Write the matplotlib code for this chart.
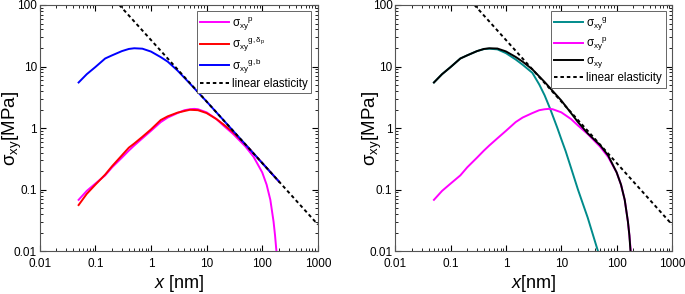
import matplotlib
matplotlib.use('Agg')
import matplotlib.pyplot as plt
from matplotlib.ticker import LogLocator, FixedLocator, FixedFormatter

plt.rcParams['font.family'] = ['Liberation Sans', 'DejaVu Sans']
plt.rcParams['mathtext.fontset'] = 'custom'
plt.rcParams['mathtext.rm'] = 'Liberation Sans'
plt.rcParams['mathtext.it'] = 'Liberation Sans:italic'
plt.rcParams['mathtext.bf'] = 'Liberation Sans:bold'

# sigma_xy^p (plastic part), same in both panels
x_p = [0.05, 0.07, 0.1, 0.15, 0.2, 0.3, 0.4, 0.5, 0.7, 1, 1.5, 2, 3, 4, 5, 6, 7, 10,
       15, 20, 30, 50, 70, 100, 120, 140, 160, 170, 180, 185]
s_p = [0.068, 0.095, 0.125, 0.17, 0.23, 0.33, 0.43, 0.52, 0.68, 0.9, 1.25, 1.48, 1.75, 1.95,
       2.02, 2.05, 2.02, 1.8, 1.4, 1.1, 0.8, 0.5, 0.34, 0.19, 0.12, 0.068, 0.03, 0.018, 0.01, 0.006]

# sigma_xy^{g,delta_p}
x_gd = [0.05, 0.07, 0.1, 0.15, 0.2, 0.3, 0.4, 0.5, 0.7, 1, 1.5, 2, 3, 5, 7, 10, 15, 20,
        30, 50, 100, 200]
s_gd = [0.056, 0.085, 0.12, 0.175, 0.24, 0.36, 0.48, 0.56, 0.72, 0.95, 1.35, 1.55, 1.78,
        1.98, 1.95, 1.75, 1.4, 1.15, 0.85, 0.54, 0.27, 0.135]

# sigma_xy^{g,b}
x_gb = [0.05, 0.07, 0.1, 0.15, 0.2, 0.3, 0.4, 0.5, 0.7, 1, 1.5, 2, 3, 5, 10, 20, 50, 100, 200]
s_gb = [5.5, 7.5, 9.8, 13.5, 15.2, 17.8, 19.3, 19.8, 19.5, 17.5, 14.2, 12, 8.6, 5.3, 2.7,
        1.35, 0.54, 0.27, 0.135]

# sigma_xy^g (right panel)
x_g = [0.05, 0.07, 0.1, 0.15, 0.2, 0.3, 0.4, 0.5, 0.7, 1, 1.5, 2, 3, 4, 5, 6.3, 8.5, 10,
       12, 15, 20, 25, 30, 40, 48]
s_g = [5.5, 7.5, 9.8, 13.5, 15.2, 17.8, 19.2, 19.5, 19, 16.5, 13, 10.7, 7.9, 5.1, 3.4, 2.05,
       1.0, 0.66, 0.42, 0.225, 0.1, 0.056, 0.035, 0.015, 0.0088]

# total sigma_xy (right panel)
x_tot = [0.05, 0.07, 0.1, 0.15, 0.2, 0.3, 0.4, 0.5, 0.7, 1, 1.5, 2, 3, 5, 7, 10, 15, 20,
         30, 50, 70, 100, 120, 140, 160, 170, 178, 182]
s_tot = [5.5, 7.5, 9.8, 13.5, 15.2, 17.8, 19.3, 19.8, 19.6, 17.6, 14.3, 12, 9.0, 5.6, 4.0,
         2.8, 1.75, 1.25, 0.82, 0.53, 0.36, 0.19, 0.12, 0.068, 0.03, 0.018, 0.01, 0.006]

# linear elasticity
x_le = [0.27, 1, 10, 100, 1000]
s_le = [100, 27, 2.7, 0.27, 0.027]

fig = plt.figure(figsize=(6.85, 2.94), dpi=100)
ax1 = fig.add_axes([0.058, 0.146, 0.406, 0.837])
ax2 = fig.add_axes([0.577, 0.146, 0.404, 0.837])

dots = (0, (1.8, 1.5))
lw = 1.4

ax1.plot(x_p, s_p, color='#ff00ff', lw=lw, label=r'$\mathrm{\sigma_{xy}{}^{p}}$')
ax1.plot(x_gd, s_gd, color='#ff0000', lw=lw, label=r'$\mathrm{\sigma_{xy}{}^{g,\delta_p}}$')
ax1.plot(x_gb, s_gb, color='#0000ff', lw=lw, label=r'$\mathrm{\sigma_{xy}{}^{g,b}}$')
ax1.plot(x_le, s_le, color='black', lw=lw, ls=dots, label='linear elasticity')

ax2.plot(x_g, s_g, color='#008b8b', lw=lw, label=r'$\mathrm{\sigma_{xy}{}^{g}}$')
ax2.plot(x_p, s_p, color='#ff00ff', lw=lw, label=r'$\mathrm{\sigma_{xy}{}^{p}}$')
ax2.plot(x_tot, s_tot, color='black', lw=lw, label=r'$\mathrm{\sigma_{xy}}$')
ax2.plot(x_le, s_le, color='black', lw=lw, ls=dots, label='linear elasticity')

xticks = [0.01, 0.1, 1, 10, 100, 1000]
xlabels = ['0.01', '0.1', '1', '10', '100', '1000']
yticks = [0.01, 0.1, 1, 10, 100]
ylabels = ['0.01', '0.1', '1', '10', '100']

for ax in (ax1, ax2):
    ax.set_xscale('log')
    ax.set_yscale('log')
    ax.set_xlim(0.01, 1000)
    ax.set_ylim(0.01, 100)
    ax.xaxis.set_major_locator(FixedLocator(xticks))
    ax.xaxis.set_major_formatter(FixedFormatter(xlabels))
    ax.yaxis.set_major_locator(FixedLocator(yticks))
    ax.yaxis.set_major_formatter(FixedFormatter(ylabels))
    ax.xaxis.set_minor_locator(LogLocator(base=10, subs=range(2, 10), numticks=20))
    ax.yaxis.set_minor_locator(LogLocator(base=10, subs=range(2, 10), numticks=20))
    ax.yaxis.set_minor_formatter(plt.NullFormatter())
    ax.xaxis.set_minor_formatter(plt.NullFormatter())
    ax.tick_params(which='both', direction='in', top=True, right=True, labelsize=8.5)
    ax.tick_params(which='major', length=4, width=0.8)
    ax.tick_params(which='minor', length=2, width=0.6)
    ax.tick_params(axis='x', pad=5)
    ax.tick_params(axis='y', pad=2)
    for sp in ax.spines.values():
        sp.set_color('#555555')
        sp.set_linewidth(0.8)
    ax.set_ylabel(r'$\mathrm{\sigma_{xy}}$[MPa]', fontsize=13.5)
    leg = ax.legend(loc='upper right', fontsize=8.3, handlelength=2.5, handletextpad=0.3,
                    borderpad=0.3, labelspacing=0.2, fancybox=False, framealpha=1,
                    edgecolor='#666666', borderaxespad=0.55)
    leg.get_frame().set_linewidth(0.7)

ax1.yaxis.set_label_coords(-0.058, 0.5)
ax2.yaxis.set_label_coords(-0.040, 0.5)

ax1.set_xlabel(r'$x$ [nm]', fontsize=13, labelpad=2)
ax2.set_xlabel(r'$x$[nm]', fontsize=13, labelpad=2)

fig.savefig('out.png', dpi=100)
